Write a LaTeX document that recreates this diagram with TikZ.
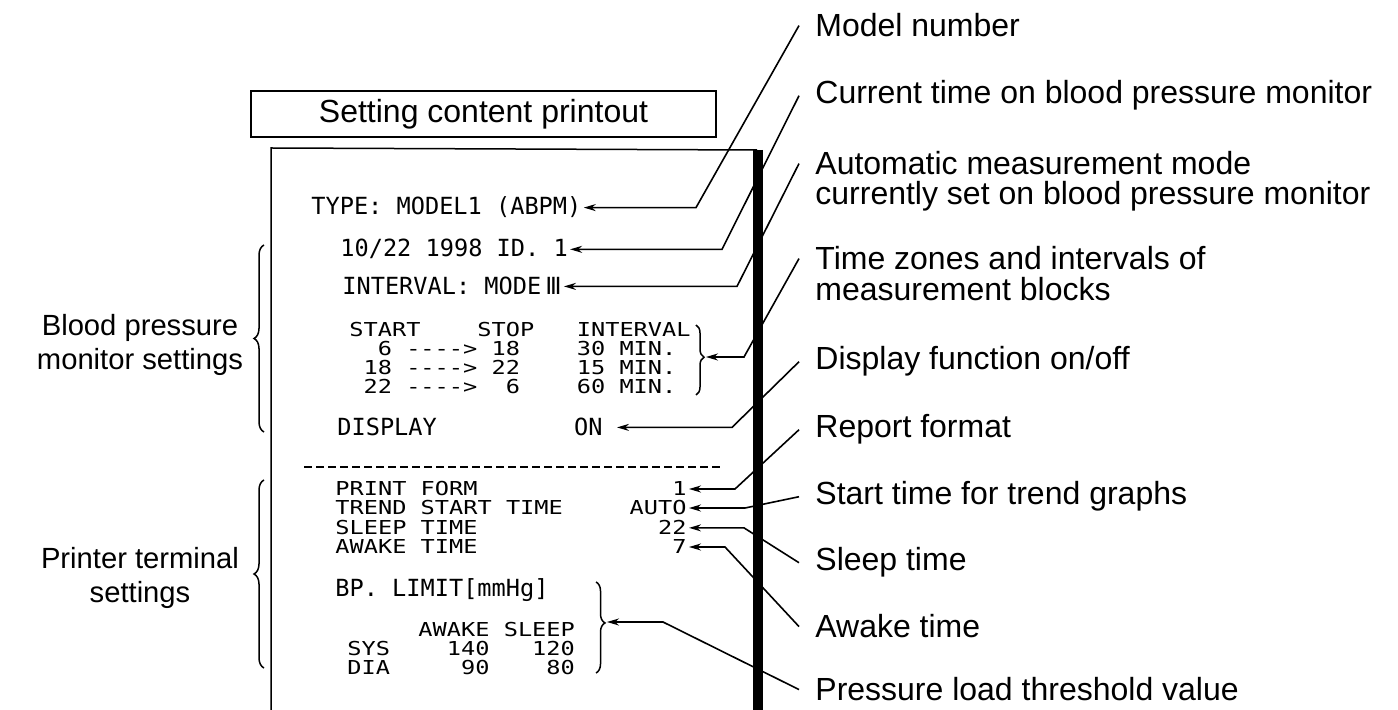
\documentclass[tikz,border=0pt]{standalone}
\usepackage{fontspec}
\setmainfont{Liberation Sans}
\setmonofont{DejaVu Sans Mono}
\newfontfamily\romanfont{DejaVu Sans}
\usetikzlibrary{arrows.meta, decorations.pathreplacing}

\begin{document}
\begin{tikzpicture}[
  x=0.5pt, y=-0.5pt,
  lbl/.style={anchor=base west, inner xsep=8pt, inner ysep=0pt, font=\fontsize{16}{15}\selectfont},
  sidelbl/.style={align=center, font=\fontsize{14.6}{17}\selectfont},
  prt/.style={anchor=base west, inner sep=1pt, font=\ttfamily\fontsize{11.8}{10}\selectfont},
  prtrow/.style={prt, inner ysep=0pt, font=\ttfamily\fontsize{9.6}{9.5}\selectfont\addfontfeature{FakeStretch=1.23}},
  prtval/.style={prtrow, anchor=base east},
  conn/.style={-{Stealth[length=6pt,width=3.5pt]}, line width=0.8pt},
  frame/.style={line width=0.75pt},
]
\useasboundingbox (0,0) rectangle (1398,710);

% Title and printout frame
\node[draw, frame, minimum width=232.5pt, minimum height=23pt, font=\fontsize{16}{19}\selectfont] (title) at (483.5,114) {Setting content printout};
\draw[frame] (271,710) -- (271,148) -- (757,150);
\draw[line width=5pt] (758,150) -- (758,710);

% Blood pressure monitor part
\node[prt] (typeline) at (309,215) {TYPE: MODEL1 (ABPM)};
\node[prt] (dateline) at (338,257) {10/22 1998 ID. 1};
\node[prt] (intline) at (340,295) {INTERVAL: MODE{\romanfont\,Ⅲ}};
\node[prtrow] (zonehead) at (347,337) {START~~~~STOP~~~INTERVAL};
\node[prtrow] (zone1) at (347,356) {~~6~---->~18~~~~30~MIN.};
\node[prtrow] (zone2) at (347,375) {~18~---->~22~~~~15~MIN.};
\node[prtrow] (zone3) at (347,394) {~22~---->~~6~~~~60~MIN.};
\node[prt] (displine) at (335,436) {DISPLAY};
\node[prt, anchor=base east, inner xsep=7pt] (dispon) at (617,436) {ON};
\draw[frame, decorate, decoration={brace, amplitude=4pt, aspect=0.46}] (696,325) -- (696,395);
\coordinate (zonetip) at (706,357);

\draw[frame, dash pattern=on 4pt off 2pt] (304,467) -- (720,467);

% Printer terminal part
\node[prtrow] (pformlbl) at (333,496) {PRINT FORM};
\node[prtval] (pform) at (689,496) {1};
\node[prtrow] (ptrendlbl) at (333,515) {TREND START TIME};
\node[prtval] (ptrend) at (689,515) {AUTO};
\node[prtrow] (psleeplbl) at (333,535) {SLEEP TIME};
\node[prtval] (psleep) at (689,535) {22};
\node[prtrow] (pawakelbl) at (333,554) {AWAKE TIME};
\node[prtval] (pawake) at (689,554) {7};
\node[prt] (bplimit) at (333,597) {BP. LIMIT[mmHg]};
\node[prtrow] (bphead) at (345,637) {~~~~~AWAKE~SLEEP};
\node[prtrow] (bpsys) at (345,656) {SYS~~~~140~~~120};
\node[prtrow] (bpdia) at (345,675) {DIA~~~~~90~~~~80};
\draw[frame, decorate, decoration={brace, amplitude=4.5pt, aspect=0.45}] (596,582) -- (596,673);
\coordinate (bptip) at (607,622);

% Groups on the left
\draw[frame, decorate, decoration={brace, amplitude=5pt}] (264,432) -- (264,245);
\draw[frame, decorate, decoration={brace, amplitude=5pt}] (264,668) -- (264,480);
\node[sidelbl] (lmonitor) at (140,345) {Blood pressure\\monitor settings};
\node[sidelbl] (lprinter) at (140,578) {Printer terminal\\settings};

% Explanations on the right
\node[lbl] (lmodel) at (799,37) {Model number};
\node[lbl] (ltime) at (799,104) {Current time on blood pressure monitor};
\node[lbl] (lauto) at (799,175) {Automatic measurement mode};
\node[lbl] (lauto2) at (799,205) {currently set on blood pressure monitor};
\node[lbl] (lzone) at (799,270) {Time zones and intervals of};
\node[lbl] (lzone2) at (799,301) {measurement blocks};
\node[lbl] (ldisp) at (799,370) {Display function on/off};
\node[lbl] (lform) at (799,438) {Report format};
\node[lbl] (ltrend) at (799,505) {Start time for trend graphs};
\node[lbl] (lsleep) at (799,571) {Sleep time};
\node[lbl] (lawake) at (799,638) {Awake time};
\node[lbl] (lload) at (799,701) {Pressure load threshold value};

\draw[conn] (lmodel.west) -- (696,0 |- typeline.east) -- (typeline.east);
\draw[conn] (ltime.west) -- (722,0 |- dateline.east) -- (dateline.east);
\draw[conn] (lauto.west) -- (737,0 |- intline.east) -- (intline.east);
\draw[conn] (lzone.west) -- (744,0 |- zonetip) -- (zonetip);
\draw[conn] (ldisp.west) -- (732,0 |- dispon.east) -- (dispon.east);
\draw[conn] (lform.west) -- (735,0 |- pform.east) -- (pform.east);
\draw[conn] (ltrend.west) -- (745,0 |- ptrend.east) -- (ptrend.east);
\draw[conn] (lsleep.west) -- (744,0 |- psleep.east) -- (psleep.east);
\draw[conn] (lawake.west) -- (725,0 |- pawake.east) -- (pawake.east);
\draw[conn] (lload.west) -- (663,0 |- bptip) -- (bptip);
\end{tikzpicture}
\end{document}
